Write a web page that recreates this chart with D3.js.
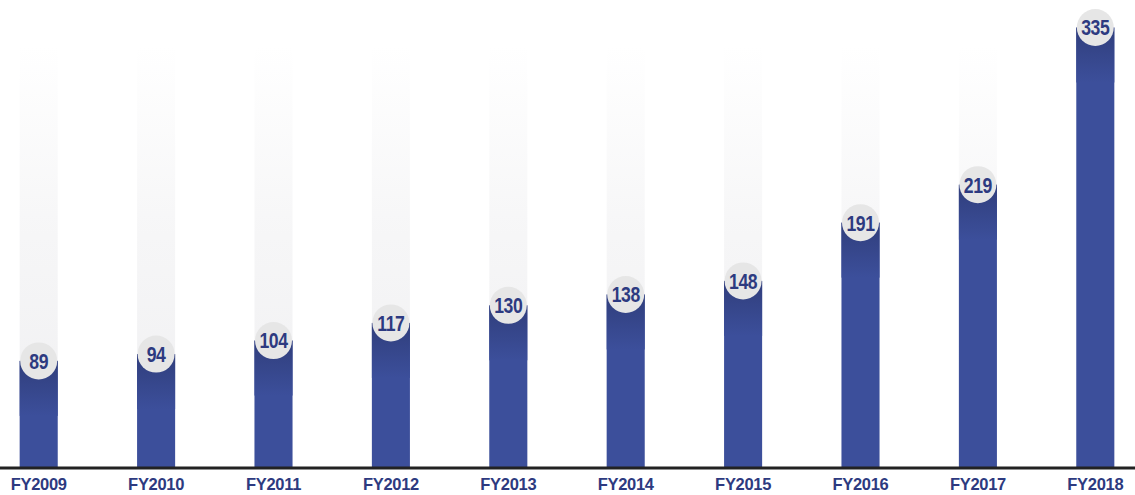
<!DOCTYPE html>
<html>
<head>
<meta charset="utf-8">
<script src="https://cdn.jsdelivr.net/npm/d3@7"></script>
<style>
  body { margin: 0; background: #fff; }
  svg { display: block; }
</style>
</head>
<body>
<div id="chart"></div>
<script>
const years = ["FY2009", "FY2010", "FY2011", "FY2012", "FY2013", "FY2014", "FY2015", "FY2016", "FY2017", "FY2018"];
const values = [89, 94, 104, 117, 130, 138, 148, 191, 219, 335];

const width = 1135, height = 495;
const baseY = 468;

const svg = d3.select("#chart").append("svg")
  .attr("width", width)
  .attr("height", height);

const x = d3.scaleBand()
  .domain(years)
  .range([-20, 1154])
  .paddingInner(0.676)
  .paddingOuter(0.338);

// value scale does not start at the axis line in the original
const y = d3.scaleLinear()
  .domain([0, 335])
  .range([481.5, 27.5]);

const defs = svg.append("defs");

const ghost = defs.append("linearGradient")
  .attr("id", "ghost")
  .attr("x1", 0).attr("x2", 0).attr("y1", 0).attr("y2", 1);
ghost.append("stop").attr("offset", "0%").attr("stop-color", "#ffffff");
ghost.append("stop").attr("offset", "45%").attr("stop-color", "#f6f6f7");
ghost.append("stop").attr("offset", "100%").attr("stop-color", "#efeff1");

const shade = defs.append("linearGradient")
  .attr("id", "shade")
  .attr("x1", 0).attr("x2", 0).attr("y1", 0).attr("y2", 1);
shade.append("stop").attr("offset", "0%").attr("stop-color", "#303e7c");
shade.append("stop").attr("offset", "100%").attr("stop-color", "#3c4f9b");

const data = years.map((d, i) => ({ year: d, value: values[i] }));

// pale background columns
svg.selectAll(".ghost")
  .data(data)
  .join("rect")
  .attr("class", "ghost")
  .attr("x", d => x(d.year))
  .attr("width", x.bandwidth())
  .attr("y", 46)
  .attr("height", baseY - 46)
  .attr("fill", "url(#ghost)");

// blue bars
svg.selectAll(".bar")
  .data(data)
  .join("rect")
  .attr("class", "bar")
  .attr("x", d => x(d.year))
  .attr("width", x.bandwidth())
  .attr("y", d => y(d.value))
  .attr("height", d => baseY - y(d.value))
  .attr("fill", "#3c4f9b");

// darker top part of each bar
svg.selectAll(".bartop")
  .data(data)
  .join("rect")
  .attr("class", "bartop")
  .attr("x", d => x(d.year))
  .attr("width", x.bandwidth())
  .attr("y", d => y(d.value))
  .attr("height", d => Math.min(55, baseY - y(d.value)))
  .attr("fill", "url(#shade)");

// axis
const axis = svg.append("g")
  .attr("transform", `translate(0,${baseY})`)
  .call(d3.axisBottom(x).tickSize(0));
axis.select(".domain").remove();
axis.selectAll("text")
  .attr("y", 22)
  .attr("dy", null)
  .attr("fill", "#2d3a80")
  .attr("font-family", "'Liberation Sans', Arial, sans-serif")
  .attr("font-weight", "bold")
  .attr("font-size", 16.5)
  .attr("letter-spacing", "-0.3");

svg.append("line")
  .attr("x1", 0).attr("x2", width)
  .attr("y1", baseY).attr("y2", baseY)
  .attr("stroke", "#222")
  .attr("stroke-width", 3);

// value bubbles
const bubble = svg.selectAll(".bubble")
  .data(data)
  .join("g")
  .attr("class", "bubble")
  .attr("transform", d => `translate(${x(d.year) + x.bandwidth() / 2},${y(d.value)})`);

bubble.append("circle")
  .attr("r", 18.5)
  .attr("fill", "#e6e6e6");

bubble.append("text")
  .attr("text-anchor", "middle")
  .attr("dy", "0.36em")
  .attr("transform", "scale(0.8,1)")
  .attr("fill", "#2d3a80")
  .attr("font-family", "'Liberation Sans', Arial, sans-serif")
  .attr("font-weight", "bold")
  .attr("font-size", 22)
  .attr("letter-spacing", "-0.5")
  .text(d => d.value);
</script>
</body>
</html>
